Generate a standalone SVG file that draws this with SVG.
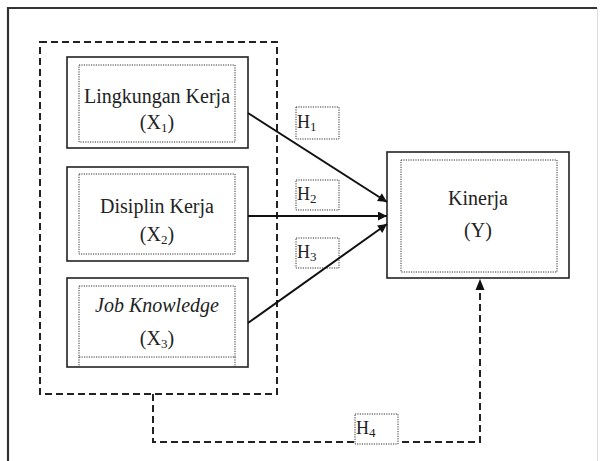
<svg xmlns="http://www.w3.org/2000/svg" width="600" height="461" viewBox="0 0 600 461">
<defs>
<style>
.box{fill:#fff;stroke:#222;stroke-width:1.6}
.inner{fill:none;stroke:#333;stroke-width:1;stroke-dasharray:1.2 1.2}
.hbox{fill:#fff;stroke:#333;stroke-width:1;stroke-dasharray:1.2 1.2}
.dash{fill:none;stroke:#222;stroke-width:2;stroke-dasharray:7 4}
.edge{fill:none;stroke:#111;stroke-width:2}
.t{font-family:"Liberation Serif","Times New Roman",serif;font-size:20px;fill:#222;text-anchor:middle}
.h{font-family:"Liberation Serif","Times New Roman",serif;font-size:18px;fill:#222}
.sub{font-size:13px}
</style>
<marker id="ah" viewBox="0 0 10 10" refX="10" refY="5" markerWidth="5" markerHeight="4.5" orient="auto" markerUnits="strokeWidth">
<path d="M0,0 L10,5 L0,10 z" fill="#111"/>
</marker>
</defs>
<rect x="0" y="0" width="600" height="461" fill="#fff"/>
<g id="frame">
<path d="M8,461 V8 H597" fill="none" stroke="#333" stroke-width="2.2"/>
<line x1="597.5" y1="8" x2="597.5" y2="461" stroke="#ddd" stroke-width="1"/>
</g>
<g id="group">
<rect x="40" y="42" width="237" height="352" class="dash"/>
</g>
<g id="x1">
<rect x="67" y="57" width="181" height="91" class="box"/>
<rect x="79" y="65" width="156" height="77" class="inner"/>
<text x="157" y="103" class="t">Lingkungan Kerja</text>
<text x="157" y="129" class="t">(X<tspan class="sub" dy="3">1</tspan><tspan dy="-3">)</tspan></text>
</g>
<g id="x2">
<rect x="67" y="167" width="181" height="94" class="box"/>
<rect x="79" y="174" width="156" height="80" class="inner"/>
<text x="157" y="213" class="t">Disiplin Kerja</text>
<text x="157" y="241" class="t">(X<tspan class="sub" dy="3">2</tspan><tspan dy="-3">)</tspan></text>
</g>
<g id="x3">
<rect x="67" y="278" width="181" height="89" class="box"/>
<rect x="79" y="286" width="156" height="71" class="inner"/>
<path d="M79,357 V367 M235,357 V367" class="inner"/>
<text x="157" y="312" class="t" font-style="italic">Job Knowledge</text>
<text x="157" y="345" class="t">(X<tspan class="sub" dy="3">3</tspan><tspan dy="-3">)</tspan></text>
</g>
<g id="y">
<rect x="387" y="152" width="182" height="126" class="box"/>
<rect x="401" y="160" width="156" height="112" class="inner"/>
<text x="478" y="205" class="t">Kinerja</text>
<text x="478" y="237" class="t">(Y)</text>
</g>
<g id="labels">
<g id="h1"><rect x="296" y="107" width="43" height="32" class="hbox"/><text x="297" y="128" class="h">H<tspan class="sub" dy="3">1</tspan></text></g>
<g id="h2"><rect x="296" y="180" width="43" height="30" class="hbox"/><text x="297" y="200" class="h">H<tspan class="sub" dy="3">2</tspan></text></g>
<g id="h3"><rect x="296" y="238" width="43" height="30" class="hbox"/><text x="297" y="258" class="h">H<tspan class="sub" dy="3">3</tspan></text></g>
</g>
<g id="connectors">
<line x1="248" y1="113" x2="387" y2="202" class="edge" marker-end="url(#ah)"/>
<line x1="248" y1="216" x2="387" y2="216" class="edge" marker-end="url(#ah)"/>
<line x1="248" y1="323" x2="387" y2="224" class="edge" marker-end="url(#ah)"/>
<path d="M153,394 V442 H480 V279" class="dash"/>
<path d="M480,279 L475.5,290 L484.5,290 z" fill="#111"/>
</g>
<g id="h4"><rect x="355" y="414" width="43" height="30" class="hbox"/><text x="356" y="434" class="h">H<tspan class="sub" dy="3">4</tspan></text></g>
</svg>
